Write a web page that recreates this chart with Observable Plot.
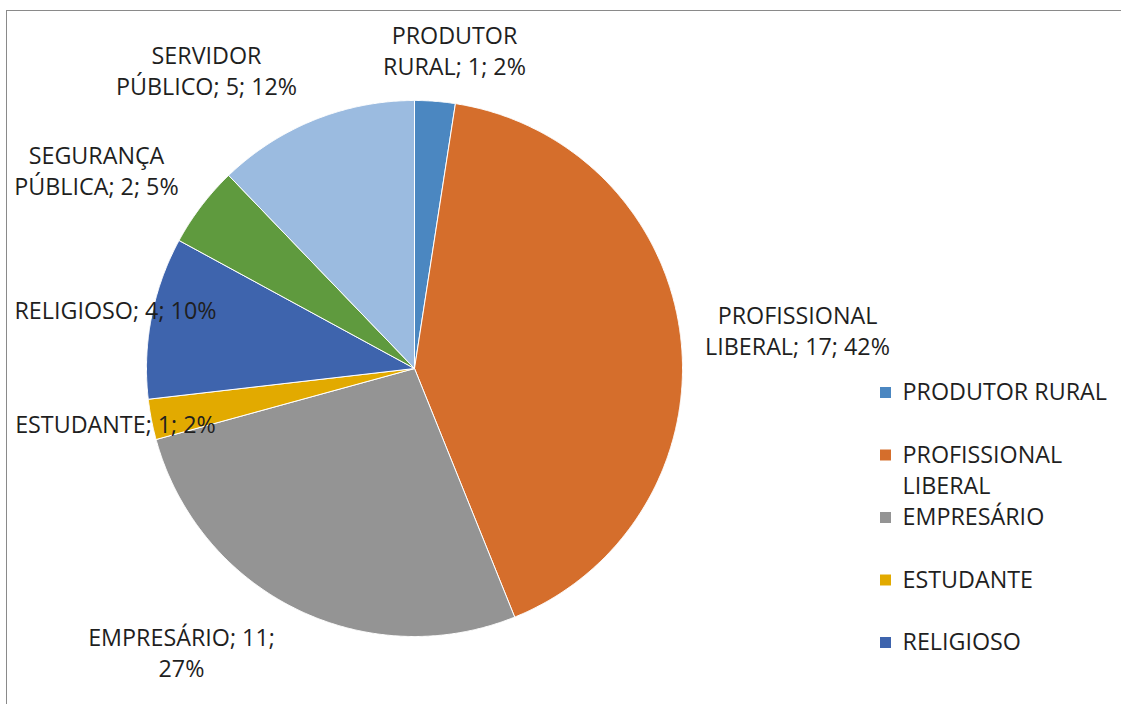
<!DOCTYPE html>
<html>
<head>
<meta charset="utf-8">
<script src="https://cdn.jsdelivr.net/npm/d3@7"></script>
<script src="https://cdn.jsdelivr.net/npm/@observablehq/plot@0.6"></script>
<style>
  html, body { margin: 0; padding: 0; background: #fff; overflow: hidden; }
  #wrap { position: relative; width: 1121px; height: 704px; }
  #border { position: absolute; left: 6px; top: 10px; width: 1300px; height: 900px; border: 1.5px solid #8a8a8a; box-sizing: border-box; }
  #chart { position: absolute; left: 0; top: 0; }
</style>
</head>
<body>
<div id="wrap"><div id="border"></div><div id="chart"></div></div>
<script>
// ---- data ----
const categories = ["PRODUTOR RURAL", "PROFISSIONAL LIBERAL", "EMPRESÁRIO", "ESTUDANTE", "RELIGIOSO", "SEGURANÇA PÚBLICA", "SERVIDOR PÚBLICO"];
const values = [1, 17, 11, 1, 4, 2, 5];
const percents = ["2%", "42%", "27%", "2%", "10%", "5%", "12%"];
const labelLines = [
  ["PRODUTOR", "RURAL; 1; 2%"],
  ["PROFISSIONAL", "LIBERAL; 17; 42%"],
  ["EMPRESÁRIO; 11;", "27%"],
  ["ESTUDANTE; 1; 2%"],
  ["RELIGIOSO; 4; 10%"],
  ["SEGURANÇA", "PÚBLICA; 2; 5%"],
  ["SERVIDOR", "PÚBLICO; 5; 12%"]
];
const legendCategories = ["PRODUTOR RURAL", "PROFISSIONAL LIBERAL", "EMPRESÁRIO", "ESTUDANTE", "RELIGIOSO"];
const legendLines = ["PRODUTOR RURAL", "PROFISSIONAL\nLIBERAL", "EMPRESÁRIO", "ESTUDANTE", "RELIGIOSO"];

// ---- styles / layout ----
const colors = ["#4b87c1", "#d56e2c", "#949494", "#e2aa00", "#3e64ad", "#5f9a3e", "#9bbbe0"];
const R = 268; // pie radius in chart units (px)
// label block centres, relative to pie centre (x right, y up)
const labelAt = [[40, 316], [383, 36], [-233, -286], [-299, -57], [-299, 57], [-318, 196], [-208, 296]];
const legend = {x: 471, textX: 488, top: -24, step: -62.5};

const total = d3.sum(values);
const pts = [];
let acc = 0;
categories.forEach((c, i) => {
  const a0 = acc / total * 2 * Math.PI;
  acc += values[i];
  const a1 = acc / total * 2 * Math.PI;
  pts.push({c, x: 0, y: 0});
  const n = Math.max(2, Math.ceil((a1 - a0) / (Math.PI / 720)));
  for (let k = 0; k <= n; k++) {
    const a = a0 + (a1 - a0) * k / n;
    pts.push({c, x: R * Math.sin(a), y: R * Math.cos(a)});
  }
  pts.push({c, x: 0, y: 0});
});

const labels = categories.map((c, i) => ({c, text: labelLines[i].join("\n"), x: labelAt[i][0], y: labelAt[i][1]}));
const legendData = legendCategories.map((c, i) => ({c, text: legendLines[i], y: legend.top + legend.step * i}));

const font = "'Open Sans', 'Noto Sans', sans-serif";
const fs = 23.3;
const chart = Plot.plot({
  width: 1121,
  height: 704,
  margin: 0,
  style: {fontFamily: font, background: "transparent", overflow: "visible"},
  x: {domain: [-414, 707], axis: null},
  y: {domain: [-336, 368], axis: null},
  color: {domain: categories, range: colors},
  marks: [
    Plot.line(pts, {x: "x", y: "y", z: "c", fill: "c", stroke: "#ffffff", strokeWidth: 1, strokeLinejoin: "round", curve: "linear"}),
    Plot.text(labels, {x: "x", y: "y", text: "text", fontSize: fs, lineHeight: 1.36, fill: "#1f1f1f", textAnchor: "middle", dy: -3}),
    Plot.dot(legendData, {x: () => legend.x, y: "y", symbol: "square", r: 6.2, fill: "c", stroke: null}),
    Plot.text(legendData, {x: () => legend.textX, y: "y", text: "text", fontSize: fs, lineHeight: 1.36, fill: "#1f1f1f", textAnchor: "start", lineAnchor: "top", dy: -15})
  ]
});
document.getElementById("chart").appendChild(chart);
</script>
</body>
</html>
